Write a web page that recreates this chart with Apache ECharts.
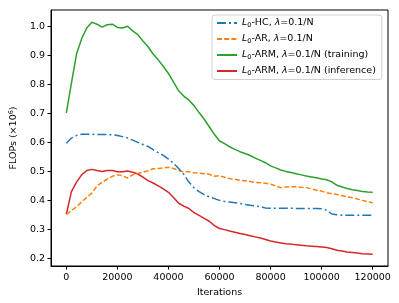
<!DOCTYPE html>
<html><head><meta charset="utf-8">
<script src="https://cdn.jsdelivr.net/npm/echarts@6/dist/echarts.min.js"></script>
<style>html,body{margin:0;padding:0;background:#fff}#c{width:399px;height:303px}</style>
</head><body><div id="c"></div>
<script>
const iterations = [0,2000,4000,6000,8000,10000,12000,14000,16000,18000,20000,22000,24000,26000,28000,30000,32000,34000,36000,38000,40000,42000,44000,46000,48000,50000,52000,54000,56000,58000,60000,62000,64000,66000,68000,70000,72000,74000,76000,78000,80000,82000,84000,86000,88000,90000,92000,94000,96000,98000,100000,102000,104000,106000,108000,110000,112000,114000,116000,118000,120000];
const hcValues = [0.597,0.615,0.624,0.628,0.628,0.628,0.627,0.627,0.627,0.626,0.624,0.620,0.615,0.608,0.600,0.593,0.586,0.575,0.565,0.555,0.542,0.528,0.510,0.490,0.463,0.443,0.430,0.420,0.412,0.406,0.400,0.396,0.394,0.392,0.389,0.386,0.383,0.381,0.378,0.374,0.373,0.373,0.373,0.373,0.373,0.372,0.372,0.372,0.372,0.372,0.371,0.366,0.353,0.350,0.349,0.349,0.349,0.349,0.349,0.349,0.348];
const arValues = [0.352,0.365,0.378,0.395,0.410,0.425,0.450,0.462,0.473,0.483,0.488,0.485,0.477,0.488,0.493,0.497,0.502,0.509,0.510,0.512,0.514,0.510,0.503,0.498,0.499,0.495,0.494,0.492,0.490,0.483,0.485,0.480,0.475,0.473,0.469,0.468,0.465,0.462,0.461,0.459,0.456,0.450,0.444,0.446,0.447,0.447,0.445,0.444,0.440,0.435,0.432,0.426,0.423,0.420,0.416,0.412,0.409,0.405,0.400,0.395,0.392];
const armTrainValues = [0.702,0.805,0.905,0.958,0.995,1.015,1.008,0.998,1.006,1.008,0.997,0.995,1.001,0.985,0.972,0.950,0.930,0.905,0.885,0.862,0.838,0.808,0.778,0.760,0.746,0.727,0.703,0.680,0.654,0.628,0.605,0.596,0.585,0.576,0.568,0.562,0.555,0.546,0.538,0.530,0.519,0.512,0.505,0.500,0.496,0.492,0.488,0.484,0.481,0.478,0.474,0.471,0.464,0.452,0.446,0.441,0.437,0.434,0.431,0.429,0.428];
const armInferValues = [0.352,0.430,0.463,0.488,0.503,0.507,0.503,0.500,0.503,0.503,0.499,0.499,0.501,0.497,0.491,0.480,0.468,0.460,0.450,0.440,0.428,0.410,0.390,0.380,0.372,0.358,0.348,0.338,0.328,0.313,0.303,0.299,0.294,0.290,0.286,0.282,0.278,0.274,0.270,0.265,0.260,0.256,0.253,0.250,0.249,0.247,0.245,0.243,0.242,0.241,0.239,0.237,0.233,0.228,0.225,0.222,0.220,0.218,0.216,0.215,0.214];
const seriesNames = ['L0-HC, λ=0.1/N','L0-AR, λ=0.1/N','L0-ARM, λ=0.1/N (training)','L0-ARM, λ=0.1/N (inference)'];
const xTicks = [0,20000,40000,60000,80000,100000,120000];
const yTicks = [0.2,0.3,0.4,0.5,0.6,0.7,0.8,0.9,1.0];

const FONT = 'DejaVu Sans';
const colors = ['#1f77b4','#ff7f0e','#2ca02c','#d62728'];
const dashes = [[9,3,2,3],[5,2.2],'solid','solid'];
const allValues = [hcValues, arValues, armTrainValues, armInferValues];

function legendFmt(name){
  const m = name.match(/^L0(.*?), λ(.*)$/);
  return '{i|L}{s|0}{t|' + m[1] + ', }{i|λ}{t|' + m[2] + '}';
}

const chart = echarts.init(document.getElementById('c'), null, {renderer:'canvas'});
chart.setOption({
  animation:false,
  backgroundColor:'#fff',
  grid:{left:44,right:11,top:10,bottom:36,show:true,borderColor:'#000',borderWidth:1,backgroundColor:'transparent'},
  legend:{
    orient:'vertical', left:212, top:15, width:171,
    backgroundColor:'rgba(255,255,255,0.8)', borderColor:'#d0d0d0', borderWidth:1, borderRadius:3,
    padding:[3,6,3,4], itemWidth:20, itemHeight:9, itemGap:5.5,
    itemStyle:{opacity:0},
    data: seriesNames,
    formatter: legendFmt,
    textStyle:{fontFamily:FONT,fontSize:9.5,color:'#000',
      rich:{
        i:{fontFamily:FONT,fontStyle:'italic',fontSize:9.5,color:'#000'},
        s:{fontFamily:FONT,fontSize:6.5,color:'#000',verticalAlign:'bottom',padding:[4,0,0,0]},
        t:{fontFamily:FONT,fontSize:9.5,color:'#000'}
      }}
  },
  xAxis:{
    type:'value', min:-6000, max:126000,
    name:'Iterations', nameLocation:'middle', nameGap:22,
    nameTextStyle:{fontFamily:FONT,fontSize:9.5,color:'#000'},
    axisLine:{show:true,onZero:false,lineStyle:{color:'#000',width:1}},
    axisTick:{show:true,length:3.5,customValues:xTicks,lineStyle:{color:'#000'}},
    axisLabel:{customValues:xTicks,margin:6.5,fontFamily:FONT,fontSize:9.5,color:'#000',formatter:v=>String(v)},
    splitLine:{show:false}
  },
  yAxis:{
    type:'value', min:0.1735, max:1.057,
    name:'{t|FLOPs (×10}{p|6}{t|)}', nameLocation:'middle', nameGap:26, nameRotate:90,
    nameTextStyle:{fontFamily:FONT,fontSize:9.5,color:'#000',
      rich:{t:{fontFamily:FONT,fontSize:9.5,color:'#000'},p:{fontFamily:FONT,fontSize:6.5,color:'#000',verticalAlign:'top',padding:[0,0,5,0]}}},
    axisLine:{show:true,onZero:false,lineStyle:{color:'#000',width:1}},
    axisTick:{show:true,length:3.5,customValues:yTicks,lineStyle:{color:'#000'}},
    axisLabel:{customValues:yTicks,margin:6,fontFamily:FONT,fontSize:9.5,color:'#000',formatter:v=>v.toFixed(1)},
    splitLine:{show:false}
  },
  series: seriesNames.map((n,k)=>({
    name:n, type:'line', symbol:'none', smooth:false,
    data: iterations.map((x,i)=>[x, allValues[k][i]]),
    lineStyle:{color:colors[k], width:1.5, type:dashes[k]},
    itemStyle:{color:colors[k]},
    z: k===0?5:(k===1?4:3)
  }))
});
</script></body></html>
